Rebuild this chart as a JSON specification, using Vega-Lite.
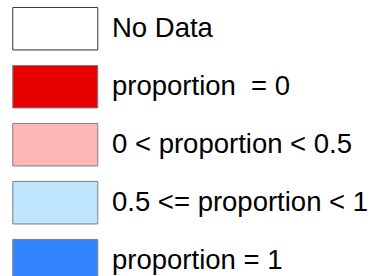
{
  "$schema": "https://vega.github.io/schema/vega-lite/v6.json",
  "width": 375,
  "height": 276,
  "padding": 0,
  "autosize": {"type": "none"},
  "background": "white",
  "config": {"view": {"stroke": null}},
  "data": {"values": [
    {"category": "No Data"},
    {"category": "proportion \u00a0= 0"},
    {"category": "0 < proportion < 0.5"},
    {"category": "0.5 <= proportion < 1"},
    {"category": "proportion = 1"}
  ]},
  "mark": {"type": "point", "filled": true, "opacity": 0, "strokeWidth": 1},
  "encoding": {
    "color": {
      "field": "category",
      "type": "nominal",
      "scale": {
        "domain": ["No Data", "proportion \u00a0= 0", "0 < proportion < 0.5", "0.5 <= proportion < 1", "proportion = 1"],
        "range": ["#ffffff", "#e60000", "#ffb6b6", "#bee6ff", "#3385ff"]
      },
      "legend": {
        "title": null,
        "orient": "none",
        "legendX": 21.25,
        "legendY": -5.3,
        "padding": 0,
        "symbolType": "M-1.2782,-0.6391H1.2782V0.6391H-1.2782Z",
        "symbolSize": 4422.25,
        "symbolOpacity": 1,
        "symbolStrokeWidth": 1,
        "labelFont": "Liberation Sans",
        "labelFontSize": 27.5,
        "labelColor": "#000000",
        "labelOffset": 22.75,
        "labelLimit": 400,
        "rowPadding": 0
      }
    },
    "stroke": {
      "field": "category",
      "type": "nominal",
      "scale": {
        "domain": ["No Data", "proportion \u00a0= 0", "0 < proportion < 0.5", "0.5 <= proportion < 1", "proportion = 1"],
        "range": ["#333333", "#7f7f7f", "#7f7f7f", "#7f7f7f", "#7f7f7f"]
      },
      "legend": {
        "title": null,
        "orient": "none",
        "legendX": 21.25,
        "legendY": -5.3,
        "padding": 0,
        "symbolType": "M-1.2782,-0.6391H1.2782V0.6391H-1.2782Z",
        "symbolSize": 4422.25,
        "symbolOpacity": 1,
        "symbolStrokeWidth": 1,
        "labelFont": "Liberation Sans",
        "labelFontSize": 27.5,
        "labelColor": "#000000",
        "labelOffset": 22.75,
        "labelLimit": 400,
        "rowPadding": 0
      }
    }
  }
}
